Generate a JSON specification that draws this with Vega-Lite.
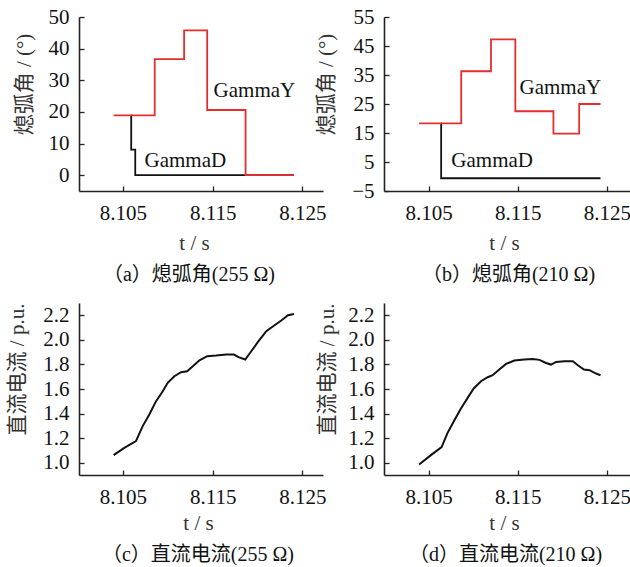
{
  "$schema": "https://vega.github.io/schema/vega-lite/v6.json",
  "padding": {"left": 6, "top": 6, "right": 0, "bottom": 0},
  "background": "white",
  "bounds": "flush",
  "columns": 2,
  "spacing": {"row": 112, "column": 61},
  "datasets": {
    "aY": [
      {"t": 8.10396, "v": 18.9}, {"t": 8.10854, "v": 36.7}, {"t": 8.11182, "v": 45.8},
      {"t": 8.11439, "v": 20.6}, {"t": 8.11867, "v": 0}, {"t": 8.12407, "v": 0}
    ],
    "aD": [
      {"t": 8.10589, "v": 18.9}, {"t": 8.10592, "v": 8.1}, {"t": 8.10637, "v": 0}, {"t": 8.12407, "v": 0}
    ],
    "bY": [
      {"t": 8.10394, "v": 18.3}, {"t": 8.10866, "v": 36.3}, {"t": 8.1120, "v": 47.3},
      {"t": 8.11473, "v": 22.5}, {"t": 8.1190, "v": 14.8}, {"t": 8.12189, "v": 25.0}, {"t": 8.12428, "v": 25.0}
    ],
    "bD": [
      {"t": 8.10640, "v": 18.3}, {"t": 8.10641, "v": -0.6}, {"t": 8.12428, "v": -0.6}
    ],
    "labA": [
      {"t": 8.11510, "v": 26.6, "label": "GammaY"}, {"t": 8.10740, "v": 4.4, "label": "GammaD"}
    ],
    "labB": [
      {"t": 8.11520, "v": 30.4, "label": "GammaY"}, {"t": 8.10755, "v": 5.3, "label": "GammaD"}
    ],
    "cI": [
      {"t": 8.10396, "v": 1.062}, {"t": 8.10515, "v": 1.121}, {"t": 8.10645, "v": 1.176},
      {"t": 8.10720, "v": 1.298}, {"t": 8.10794, "v": 1.393}, {"t": 8.10869, "v": 1.501},
      {"t": 8.10944, "v": 1.582}, {"t": 8.10999, "v": 1.650}, {"t": 8.11073, "v": 1.704},
      {"t": 8.11148, "v": 1.737}, {"t": 8.11215, "v": 1.745}, {"t": 8.11279, "v": 1.785},
      {"t": 8.11353, "v": 1.834}, {"t": 8.11439, "v": 1.867}, {"t": 8.11539, "v": 1.872},
      {"t": 8.11651, "v": 1.880}, {"t": 8.11737, "v": 1.880}, {"t": 8.11788, "v": 1.859},
      {"t": 8.11863, "v": 1.840}, {"t": 8.11930, "v": 1.907}, {"t": 8.12005, "v": 1.983},
      {"t": 8.12098, "v": 2.070}, {"t": 8.12190, "v": 2.119}, {"t": 8.12265, "v": 2.157},
      {"t": 8.12340, "v": 2.200}, {"t": 8.12407, "v": 2.211}
    ],
    "dI": [
      {"t": 8.10394, "v": 0.986}, {"t": 8.10526, "v": 1.062}, {"t": 8.10646, "v": 1.127},
      {"t": 8.10713, "v": 1.243}, {"t": 8.10788, "v": 1.344}, {"t": 8.10863, "v": 1.441},
      {"t": 8.10938, "v": 1.528}, {"t": 8.11006, "v": 1.604}, {"t": 8.11088, "v": 1.663},
      {"t": 8.11163, "v": 1.696}, {"t": 8.11219, "v": 1.712}, {"t": 8.11293, "v": 1.758},
      {"t": 8.11369, "v": 1.804}, {"t": 8.11462, "v": 1.832}, {"t": 8.11574, "v": 1.840},
      {"t": 8.11669, "v": 1.845}, {"t": 8.11743, "v": 1.837}, {"t": 8.11818, "v": 1.812},
      {"t": 8.11874, "v": 1.799}, {"t": 8.11930, "v": 1.820}, {"t": 8.12024, "v": 1.826},
      {"t": 8.12118, "v": 1.826}, {"t": 8.12174, "v": 1.793}, {"t": 8.12242, "v": 1.758},
      {"t": 8.12305, "v": 1.753}, {"t": 8.12361, "v": 1.731}, {"t": 8.12428, "v": 1.712}
    ]
  },
  "concat": [
    {
      "width": 244, "height": 174,
      "title": {"text": "（a）熄弧角(255 Ω)", "orient": "bottom", "anchor": "middle", "frame": "group", "dx": -12, "offset": 12},
      "encoding": {
        "x": {"field": "t", "type": "quantitative",
              "scale": {"domain": [8.1001, 8.1273], "nice": false, "zero": false},
              "axis": {"values": [8.105, 8.115, 8.125], "format": ".3f", "title": "t / s", "titleX": 115, "titleY": 52}},
        "y": {"field": "v", "type": "quantitative",
              "scale": {"domain": [-5, 50], "nice": false, "zero": false},
              "axis": {"values": [0, 10, 20, 30, 40, 50], "title": "熄弧角 / (°)", "titleX": -55, "titleY": 67}}
      },
      "layer": [
        {"data": {"name": "aD"}, "mark": {"type": "line", "interpolate": "step-after", "color": "#111", "strokeWidth": 1.8}},
        {"data": {"name": "aY"}, "mark": {"type": "line", "interpolate": "step-after", "color": "#e52d2d", "strokeWidth": 1.8}},
        {"data": {"name": "labA"}, "mark": {"type": "text", "align": "left", "baseline": "middle", "font": "Liberation Serif, serif", "fontSize": 21, "color": "#111"},
         "encoding": {"text": {"field": "label"}}}
      ]
    },
    {
      "width": 247, "height": 174,
      "title": {"text": "（b）熄弧角(210 Ω)", "orient": "bottom", "anchor": "middle", "frame": "group", "dx": 1, "offset": 12},
      "encoding": {
        "x": {"field": "t", "type": "quantitative",
              "scale": {"domain": [8.1, 8.1277], "nice": false, "zero": false},
              "axis": {"values": [8.105, 8.115, 8.125], "format": ".3f", "title": "t / s", "titleX": 120, "titleY": 52}},
        "y": {"field": "v", "type": "quantitative",
              "scale": {"domain": [-5, 55], "nice": false, "zero": false},
              "axis": {"values": [-5, 5, 15, 25, 35, 45, 55], "title": "熄弧角 / (°)", "titleX": -58, "titleY": 67}}
      },
      "layer": [
        {"data": {"name": "bD"}, "mark": {"type": "line", "interpolate": "step-after", "color": "#111", "strokeWidth": 1.8}},
        {"data": {"name": "bY"}, "mark": {"type": "line", "interpolate": "step-after", "color": "#e52d2d", "strokeWidth": 1.8}},
        {"data": {"name": "labB"}, "mark": {"type": "text", "align": "left", "baseline": "middle", "font": "Liberation Serif, serif", "fontSize": 21, "color": "#111"},
         "encoding": {"text": {"field": "label"}}}
      ]
    },
    {
      "width": 244, "height": 172,
      "title": {"text": "（c）直流电流(255 Ω)", "orient": "bottom", "anchor": "middle", "frame": "group", "dx": -3, "offset": 12},
      "data": {"name": "cI"},
      "mark": {"type": "line", "color": "#111", "strokeWidth": 2},
      "encoding": {
        "x": {"field": "t", "type": "quantitative",
              "scale": {"domain": [8.1001, 8.1273], "nice": false, "zero": false},
              "axis": {"values": [8.105, 8.115, 8.125], "format": ".3f", "title": "t / s", "titleX": 119, "titleY": 48}},
        "y": {"field": "v", "type": "quantitative",
              "scale": {"domain": [0.9, 2.3], "nice": false, "zero": false},
              "axis": {"values": [1.0, 1.2, 1.4, 1.6, 1.8, 2.0, 2.2], "format": ".1f", "title": "直流电流 / p.u.", "titleX": -62, "titleY": 66}}
      }
    },
    {
      "width": 247, "height": 172,
      "title": {"text": "（d）直流电流(210 Ω)", "orient": "bottom", "anchor": "middle", "frame": "group", "dx": -2, "offset": 12},
      "data": {"name": "dI"},
      "mark": {"type": "line", "color": "#111", "strokeWidth": 2},
      "encoding": {
        "x": {"field": "t", "type": "quantitative",
              "scale": {"domain": [8.1, 8.1277], "nice": false, "zero": false},
              "axis": {"values": [8.105, 8.115, 8.125], "format": ".3f", "title": "t / s", "titleX": 120, "titleY": 48}},
        "y": {"field": "v", "type": "quantitative",
              "scale": {"domain": [0.9, 2.3], "nice": false, "zero": false},
              "axis": {"values": [1.0, 1.2, 1.4, 1.6, 1.8, 2.0, 2.2], "format": ".1f", "title": "直流电流 / p.u.", "titleX": -57, "titleY": 66}}
      }
    }
  ],
  "config": {
    "view": {"stroke": null},
    "axis": {
      "grid": false, "domainColor": "#222", "domainWidth": 1.6, "tickColor": "#222", "tickWidth": 1.3, "tickSize": -5,
      "labelFont": "Liberation Serif, serif", "labelFontSize": 21, "labelColor": "#111", "labelPadding": 15,
      "labelFlush": false, "labelOverlap": false,
      "titleFont": "Liberation Serif, Noto Sans CJK SC", "titleFontSize": 21, "titleFontWeight": "normal", "titleColor": "#333",
      "titleAlign": "center", "titleBaseline": "middle"
    },
    "axisX": {"labelPadding": 16},
    "axisY": {"titleAngle": 270},
    "title": {"font": "Liberation Serif, Noto Sans CJK SC", "fontSize": 20, "fontWeight": "normal", "color": "#111"}
  }
}
